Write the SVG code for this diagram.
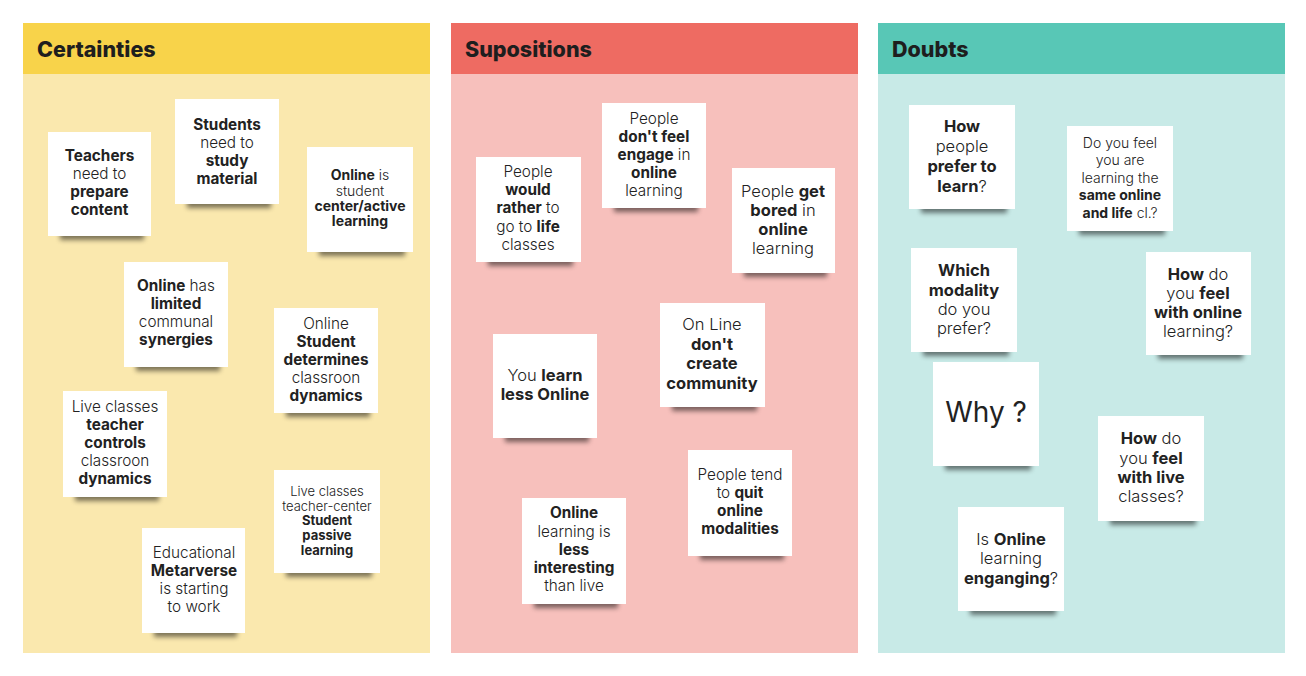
<svg xmlns="http://www.w3.org/2000/svg" width="1306" height="676" viewBox="0 0 1306 676">
<style>
text{font-family:Inter,"Noto Sans","Liberation Sans",sans-serif;fill:#222;text-anchor:middle;font-size:15.3px;font-weight:300}
.b{font-weight:700}
.h{font-weight:800;font-size:21.5px;text-anchor:start;fill:#1e1e1e}
.n{fill:#fff}
.sh{fill:#000;opacity:.5;filter:url(#blur)}
.s13{font-size:14px}
.s12{font-size:13px}
.s16{font-size:16.5px}
</style>
<defs>
<filter id="blur" x="-20%" y="-100%" width="140%" height="300%"><feGaussianBlur stdDeviation="2.6"/></filter>
</defs>
<rect width="1306" height="676" fill="#fff"/>
<g id="panel-certainties">
<rect x="23" y="23" width="407" height="630" fill="#FAE8AE"/>
<rect x="23" y="23" width="407" height="51" fill="#F8D34A"/>
<text class="h" x="37" y="57">Certainties</text>
</g>
<g id="panel-supositions">
<rect x="451" y="23" width="407" height="630" fill="#F7C0BC"/>
<rect x="451" y="23" width="407" height="51" fill="#EE6B62"/>
<text class="h" x="465" y="57">Supositions</text>
</g>
<g id="panel-doubts">
<rect x="878" y="23" width="407" height="630" fill="#C8EAE7"/>
<rect x="878" y="23" width="407" height="51" fill="#58C7B6"/>
<text class="h" x="892" y="57">Doubts</text>
</g>
<g id="connectors"></g>

<!-- Certainties notes -->
<g id="c1"><rect class="sh" x="60" y="229" width="84" height="11"/><rect class="n" x="48" y="132" width="103" height="104"/>
<text x="99.5" y="161" class="b">Teachers</text><text x="99.5" y="179">need to</text><text x="99.5" y="197" class="b">prepare</text><text x="99.5" y="215" class="b">content</text></g>
<g id="c2"><rect class="sh" x="187" y="197" width="84" height="11"/><rect class="n" x="175" y="99" width="104" height="105"/>
<text x="227" y="130" class="b">Students</text><text x="227" y="148">need to</text><text x="227" y="166" class="b">study</text><text x="227" y="184" class="b">material</text></g>
<g id="c3"><rect class="sh" x="319" y="245" width="86" height="11"/><rect class="n" x="307" y="147" width="106" height="105"/>
<text x="360" y="180" class="s13"><tspan class="b">Online</tspan> is</text><text x="360" y="196" class="s13">student</text><text x="360" y="211" class="s13 b">center/active</text><text x="360" y="226" class="s13 b">learning</text></g>
<g id="c4"><rect class="sh" x="136" y="360" width="84" height="11"/><rect class="n" x="124" y="262" width="104" height="105"/>
<text x="176" y="291"><tspan class="b">Online</tspan> has</text><text x="176" y="309" class="b">limited</text><text x="176" y="327">communal</text><text x="176" y="345" class="b">synergies</text></g>
<g id="c5"><rect class="sh" x="286" y="406" width="84" height="11"/><rect class="n" x="274" y="308" width="104" height="105"/>
<text x="326" y="329">Online</text><text x="326" y="347" class="b">Student</text><text x="326" y="365" class="b">determines</text><text x="326" y="383">classroon</text><text x="326" y="401" class="b">dynamics</text></g>
<g id="c6"><rect class="sh" x="75" y="490" width="84" height="11"/><rect class="n" x="63" y="391" width="104" height="106"/>
<text x="115" y="412">Live classes</text><text x="115" y="430" class="b">teacher</text><text x="115" y="448" class="b">controls</text><text x="115" y="466">classroon</text><text x="115" y="484" class="b">dynamics</text></g>
<g id="c7"><rect class="sh" x="286" y="566" width="86" height="11"/><rect class="n" x="274" y="470" width="106" height="103"/>
<text x="327" y="496" class="s12">Live classes</text><text x="327" y="511" class="s12">teacher-center</text><text x="327" y="525" class="s12 b">Student</text><text x="327" y="540" class="s12 b">passive</text><text x="327" y="555" class="s12 b">learning</text></g>
<g id="c8"><rect class="sh" x="154" y="626" width="83" height="11"/><rect class="n" x="142" y="528" width="103" height="105"/>
<text x="194" y="558">Educational</text><text x="194" y="576" class="b">Metarverse</text><text x="194" y="594">is starting</text><text x="194" y="612">to work</text></g>

<!-- Supositions notes -->
<g id="s1"><rect class="sh" x="488" y="255" width="85" height="11"/><rect class="n" x="476" y="157" width="105" height="105"/>
<text x="528" y="177">People</text><text x="528" y="195" class="b">would</text><text x="528" y="213"><tspan class="b">rather</tspan> to</text><text x="528" y="232">go to <tspan class="b">life</tspan></text><text x="528" y="250">classes</text></g>
<g id="s2"><rect class="sh" x="614" y="201" width="84" height="11"/><rect class="n" x="602" y="103" width="104" height="105"/>
<text x="654" y="124">People</text><text x="654" y="142" class="b">don't feel</text><text x="654" y="160"><tspan class="b">engage</tspan> in</text><text x="654" y="178" class="b">online</text><text x="654" y="196">learning</text></g>
<g id="s3"><rect class="sh" x="744" y="266" width="83" height="11"/><rect class="n" x="732" y="168" width="103" height="105"/>
<text x="783" y="197" class="s16">People <tspan class="b">get</tspan></text><text x="783" y="216" class="s16"><tspan class="b">bored</tspan> in</text><text x="783" y="235" class="s16 b">online</text><text x="783" y="254" class="s16">learning</text></g>
<g id="s4"><rect class="sh" x="505" y="431" width="84" height="11"/><rect class="n" x="493" y="334" width="104" height="104"/>
<text x="545" y="381" class="s16">You <tspan class="b">learn</tspan></text><text x="545" y="400" class="s16 b">less Online</text></g>
<g id="s5"><rect class="sh" x="672" y="400" width="85" height="11"/><rect class="n" x="660" y="303" width="105" height="104"/>
<text x="712" y="330" class="s16">On Line</text><text x="712" y="350" class="s16 b">don't</text><text x="712" y="369" class="s16 b">create</text><text x="712" y="389" class="s16 b">community</text></g>
<g id="s6"><rect class="sh" x="700" y="549" width="84" height="11"/><rect class="n" x="688" y="450" width="104" height="106"/>
<text x="740" y="480">People tend</text><text x="740" y="498">to <tspan class="b">quit</tspan></text><text x="740" y="516" class="b">online</text><text x="740" y="534" class="b">modalities</text></g>
<g id="s7"><rect class="sh" x="534" y="597" width="84" height="11"/><rect class="n" x="522" y="498" width="104" height="106"/>
<text x="574" y="518" class="b">Online</text><text x="574" y="537">learning is</text><text x="574" y="555" class="b">less</text><text x="574" y="573" class="b">interesting</text><text x="574" y="591">than live</text></g>

<!-- Doubts notes -->
<g id="d1"><rect class="sh" x="921" y="202" width="86" height="11"/><rect class="n" x="909" y="105" width="106" height="104"/>
<text x="962" y="132" class="s16 b">How</text><text x="962" y="152" class="s16">people</text><text x="962" y="172" class="s16 b">prefer to</text><text x="962" y="192" class="s16"><tspan class="b">learn</tspan>?</text></g>
<g id="d2"><rect class="sh" x="1079" y="224" width="86" height="11"/><rect class="n" x="1067" y="126" width="106" height="105"/>
<text x="1120" y="148" class="s13">Do you feel</text><text x="1120" y="165" class="s13">you are</text><text x="1120" y="183" class="s13">learning the</text><text x="1120" y="200" class="s13 b">same online</text><text x="1120" y="218" class="s13"><tspan class="b">and life</tspan> cl.?</text></g>
<g id="d3"><rect class="sh" x="923" y="345" width="86" height="11"/><rect class="n" x="911" y="248" width="106" height="104"/>
<text x="964" y="276" class="s16 b">Which</text><text x="964" y="296" class="s16 b">modality</text><text x="964" y="315" class="s16">do you</text><text x="964" y="334" class="s16">prefer?</text></g>
<g id="d4"><rect class="sh" x="1158" y="348" width="85" height="11"/><rect class="n" x="1146" y="252" width="105" height="103"/>
<text x="1198" y="280" class="s16"><tspan class="b">How</tspan> do</text><text x="1198" y="299" class="s16">you <tspan class="b">feel</tspan></text><text x="1198" y="318" class="s16 b">with online</text><text x="1198" y="337" class="s16">learning?</text></g>
<g id="d5"><rect class="sh" x="945" y="459" width="86" height="11"/><rect class="n" x="933" y="362" width="106" height="104"/>
<text x="986" y="422" style="font-size:28px;font-weight:400">Why ?</text></g>
<g id="d6"><rect class="sh" x="1110" y="514" width="86" height="11"/><rect class="n" x="1098" y="416" width="106" height="105"/>
<text x="1151" y="444" class="s16"><tspan class="b">How</tspan> do</text><text x="1151" y="464" class="s16">you <tspan class="b">feel</tspan></text><text x="1151" y="483" class="s16 b">with live</text><text x="1151" y="502" class="s16">classes?</text></g>
<g id="d7"><rect class="sh" x="970" y="604" width="86" height="11"/><rect class="n" x="958" y="507" width="106" height="104"/>
<text x="1011" y="545" class="s16">Is <tspan class="b">Online</tspan></text><text x="1011" y="564" class="s16">learning</text><text x="1011" y="584" class="s16"><tspan class="b">enganging</tspan>?</text></g>
</svg>
